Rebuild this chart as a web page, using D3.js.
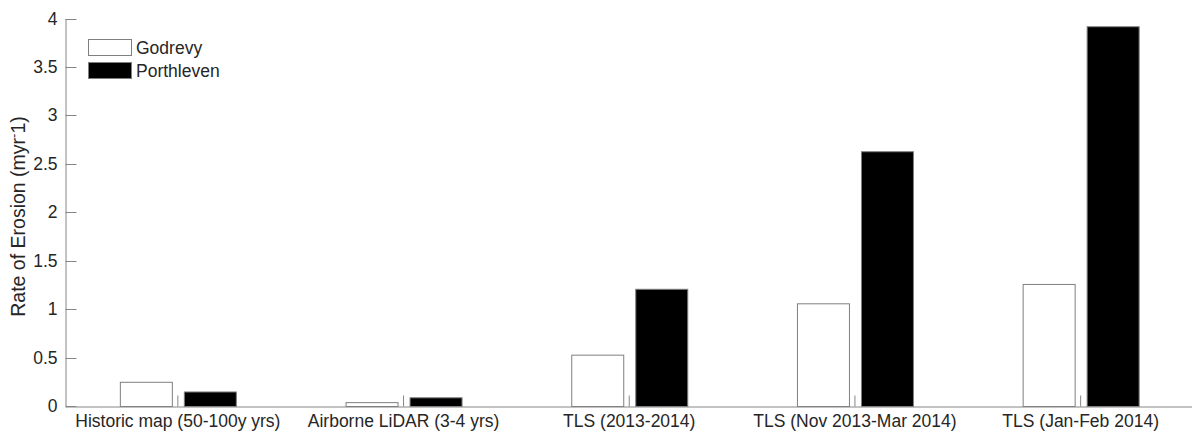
<!DOCTYPE html>
<html>
<head>
<meta charset="utf-8">
<script src="https://cdn.jsdelivr.net/npm/d3@7"></script>
<style>
  html, body { margin: 0; padding: 0; background: #ffffff; }
  svg { display: block; }
  text { font-family: "Liberation Sans", Arial, Helvetica, sans-serif; }
</style>
</head>
<body>
<svg id="chart" width="1192" height="434"></svg>
<script>
const categories = [
  "Historic map (50-100y yrs)",
  "Airborne LiDAR (3-4 yrs)",
  "TLS (2013-2014)",
  "TLS (Nov 2013-Mar 2014)",
  "TLS (Jan-Feb 2014)"
];
const seriesNames = ["Godrevy", "Porthleven"];
const godrevy = [0.25, 0.04, 0.53, 1.06, 1.26];
const porthleven = [0.15, 0.09, 1.21, 2.63, 3.92];
const yTicks = [0, 0.5, 1, 1.5, 2, 2.5, 3, 3.5, 4];
const yTickLabels = ["0", "0.5", "1", "1.5", "2", "2.5", "3", "3.5", "4"];

const seriesValues = [godrevy, porthleven];
const fills = ["#ffffff", "#000000"];
const strokes = ["#7f7f7f", "#7f7f7f"];
const axisColor = "#868686";
const textColor = "#262626";
const fs = 17.5;

const svg = d3.select("#chart");

const x = d3.scaleBand().domain(categories).range([65, 1193.5]).padding(0);
const xs = d3.scaleBand().domain(seriesNames).range([0, x.bandwidth()])
  .paddingInner(0.1875).paddingOuter(0.857);
const y = d3.scaleLinear().domain([0, 4]).range([406, 18.5]);

// bars
const groups = svg.append("g").selectAll("g")
  .data(categories).join("g")
  .attr("transform", d => `translate(${x(d)},0)`);

groups.selectAll("rect")
  .data((c, i) => seriesNames.map((s, j) => ({ s, j, v: seriesValues[j][i] })))
  .join("rect")
  .attr("x", d => xs(d.s) + 0.5)
  .attr("width", xs.bandwidth())
  .attr("y", d => y(d.v) + 0.5)
  .attr("height", d => y(0) - y(d.v))
  .attr("fill", d => fills[d.j])
  .attr("stroke", d => strokes[d.j])
  .attr("stroke-width", 1);

// y axis
const yAxis = d3.axisLeft(y).tickValues(yTicks)
  .tickFormat((d, i) => yTickLabels[i])
  .tickSizeInner(-11).tickSizeOuter(0).tickPadding(8);
const gy = svg.append("g").attr("transform", "translate(65.5,0)").call(yAxis);
gy.select(".domain").attr("stroke", axisColor);
gy.selectAll(".tick line").attr("stroke", axisColor);
gy.selectAll(".tick text").attr("fill", textColor).attr("font-size", fs)
  .attr("x", -8);
gy.selectAll(".tick").attr("transform", d => `translate(0,${Math.round(y(d)) + 0.5})`);

// x axis
const xAxis = d3.axisBottom(x).tickSizeInner(-11).tickSizeOuter(0).tickPadding(6);
const gx = svg.append("g").attr("transform", "translate(0,406.5)").call(xAxis);
gx.select(".domain").attr("stroke", axisColor);
gx.selectAll(".tick line").attr("stroke", axisColor);
gx.selectAll(".tick text").attr("fill", textColor).attr("font-size", fs)
  .attr("y", 8);

// y label
const yl = svg.append("text")
  .attr("transform", "translate(25,216.5) rotate(-90)")
  .attr("text-anchor", "middle")
  .attr("fill", textColor)
  .attr("font-size", 19.5);
yl.append("tspan").text("Rate of Erosion (myr");
yl.append("tspan").attr("dy", -7).attr("font-size", 13).text("-");
yl.append("tspan").attr("dy", 7).text("1)");

// legend
const legend = svg.append("g");
seriesNames.forEach((s, j) => {
  const ly = 39.5 + j * 23;
  legend.append("rect")
    .attr("x", 88.5).attr("y", ly)
    .attr("width", 43).attr("height", 16)
    .attr("fill", fills[j]).attr("stroke", strokes[j]);
  legend.append("text")
    .attr("x", 136).attr("y", ly + 8)
    .attr("dy", "0.35em")
    .attr("fill", textColor)
    .attr("font-size", fs)
    .text(s);
});
</script>
</body>
</html>
